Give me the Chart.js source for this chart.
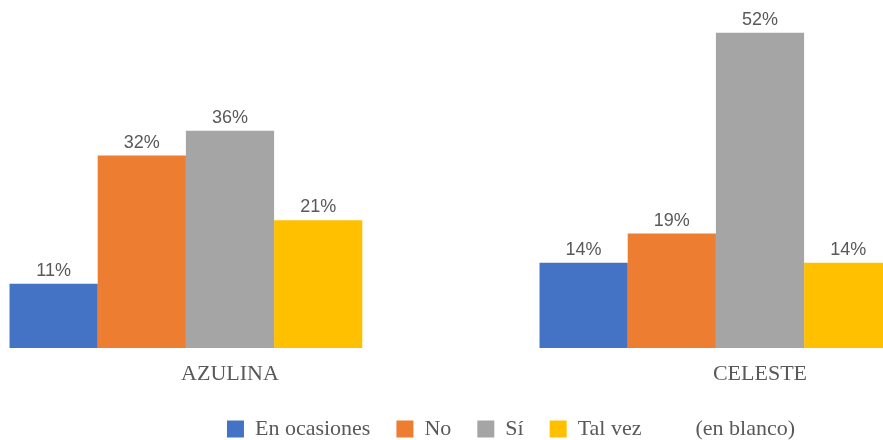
<!DOCTYPE html>
<html>
<head>
<meta charset="utf-8">
<script src="https://cdn.jsdelivr.net/npm/chart.js@4/dist/chart.umd.min.js"></script>
<style>
  html, body { margin: 0; padding: 0; background: #fff; overflow: hidden; }
  body { width: 883px; height: 440px; position: relative; }
  #wrap { position: absolute; left: -35px; top: 0; width: 1092px; height: 440px; }
</style>
</head>
<body>
<div id="wrap"><canvas id="chart"></canvas></div>
<script>
const categories = ['AZULINA', 'CELESTE'];
const seriesNames = ['En ocasiones', 'No', 'Sí', 'Tal vez', '(en blanco)'];
const enOcasiones = [10.6, 14.1];
const no = [31.8, 18.9];
const si = [35.9, 52.1];
const talVez = [21.1, 14.1];
const enBlanco = [null, null];
const colors = ['#4472C4', '#ED7D31', '#A5A5A5', '#FFC000', '#FFFFFF'];

const values = [enOcasiones, no, si, talVez, enBlanco];

const labelPlugin = {
  id: 'barLabels',
  afterDatasetsDraw(chart) {
    const ctx = chart.ctx;
    ctx.save();
    ctx.font = '18px "Liberation Sans", Arial, sans-serif';
    ctx.fillStyle = '#595959';
    ctx.textAlign = 'center';
    ctx.textBaseline = 'bottom';
    chart.data.datasets.forEach((ds, i) => {
      chart.getDatasetMeta(i).data.forEach((bar, j) => {
        const v = ds.data[j];
        if (v == null) return;
        ctx.fillText(Math.round(v) + '%', bar.x, bar.y - 4);
      });
    });
    ctx.restore();
  }
};

new Chart(document.getElementById('chart'), {
  type: 'bar',
  data: {
    labels: categories,
    datasets: seriesNames.map((name, i) => ({
      label: name,
      data: values[i],
      backgroundColor: colors[i],
      borderWidth: 0,
      barPercentage: 1,
      categoryPercentage: 0.832,
    })),
  },
  options: {
    responsive: true,
    maintainAspectRatio: false,
    animation: false,
    layout: { padding: { top: 0, bottom: -10 } },
    plugins: {
      tooltip: { enabled: false },
      legend: {
        position: 'bottom',
        labels: {
          boxWidth: 17,
          boxHeight: 17,
          padding: 26,
          color: '#595959',
          font: { family: '"Liberation Serif", "Times New Roman", serif', size: 22 },
        },
      },
    },
    scales: {
      x: {
        grid: { display: false },
        border: { display: false },
        ticks: {
          color: '#595959',
          padding: 7,
          font: { family: '"Liberation Serif", "Times New Roman", serif', size: 22, lineHeight: 1 },
        },
      },
      y: {
        position: 'right',
        min: 0,
        max: 57.5,
        grid: { display: false },
        border: { display: false },
        ticks: { display: false },
        afterFit(scale) { scale.width = 32; },
      },
    },
  },
  plugins: [labelPlugin],
});
</script>
</body>
</html>
